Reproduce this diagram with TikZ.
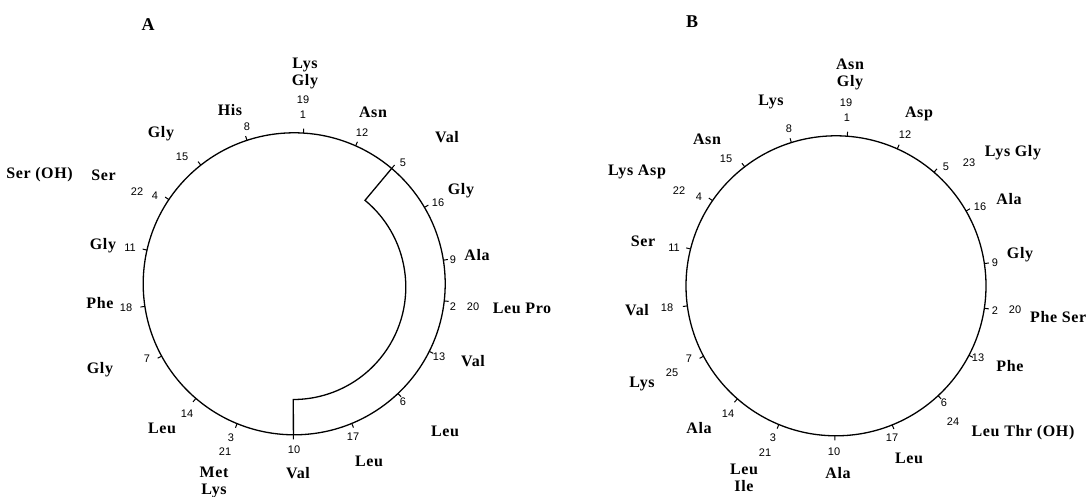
\documentclass[tikz,border=0pt]{standalone}
\usepackage{fontspec}
\setmainfont{Liberation Serif}
\newfontfamily\resfont{Liberation Serif}[LetterSpace=4]
\newfontfamily\numfont{Liberation Sans}
\begin{document}
\begin{tikzpicture}[x=1pt,y=-1pt,
  res/.style={font=\resfont\bfseries\fontsize{16}{17}\selectfont, inner sep=0pt, align=center},
  num/.style={font=\numfont\fontsize{11}{12}\selectfont, inner sep=0pt},
  panel/.style={font=\resfont\bfseries\fontsize{18}{20}\selectfont, inner sep=0pt},
  wheel/.style={line width=1.3pt},
  tickmark/.style={line width=1pt},
  face/.style={line width=1.3pt, line join=miter}]
\useasboundingbox (0,0) rectangle (1086,497);

% ---------- wheel A ----------
\coordinate (cA) at (294.2,283.8);
\coordinate (cI) at (293.3,287);
\draw[wheel] (cA) circle[radius=151pt];
\foreach \t in {-86.5,-66,-49.8,-30.4,-9,6.5,26.6,46.6,67.6,90.3,112.2,130.6,151.4,171.4,-167.1,-146.1,-128.2,-108.2}
  \draw[tickmark] ([shift={(\t:151)}]cA) -- ([shift={(\t:155.5)}]cA);
% hydrophobic face, from residue 5 round to residue 10
\coordinate (A-p5) at ([shift={(-49.8:151)}]cA);
\coordinate (A-p10) at ([shift={(90.3:151)}]cA);
\draw[face] (A-p5) -- ([shift={(-50.4:112.5)}]cI) arc[start angle=-50.4, end angle=90, radius=112.5] -- (A-p10);

\node[panel] (A-title) at (148,25) {A};
\node[res] (A-r19) at (305,73) {Lys\\Gly};
\node[res] (A-r8) at (230,110) {His};
\node[res] (A-r12) at (373,112) {Asn};
\node[res] (A-r5) at (447,137) {Val};
\node[res] (A-r15) at (161,134) {Gly};
\node[res] (A-r22) at (39.5,175) {Ser (OH)};
\node[res] (A-r4) at (103.5,175) {Ser};
\node[res] (A-r11) at (103,246) {Gly};
\node[res] (A-r18) at (100,303) {Phe};
\node[res] (A-r7) at (100,370) {Gly};
\node[res] (A-r14) at (162,428) {Leu};
\node[res] (A-r3) at (214,482) {Met\\Lys};
\node[res] (A-r10) at (298,473) {Val};
\node[res] (A-r17) at (369,461) {Leu};
\node[res] (A-r6) at (445,431) {Leu};
\node[res] (A-r13) at (473,361) {Val};
\node[res] (A-r2) at (522,308) {Leu Pro};
\node[res] (A-r9) at (477,255) {Ala};
\node[res] (A-r16) at (461,191) {Gly};

\foreach \n/\x/\y in {19/303/100, 1/303/115, 12/362/133, 5/403/163, 16/438/203,
    9/453/260, 2/453/307, 20/473/307, 13/439/357, 6/403/402, 17/353/437,
    10/294/450, 3/231/438, 21/225/452, 14/187/414, 7/147/359, 18/126/308,
    11/130/248, 22/137/192, 4/155/196, 15/182/157, 8/247/127}
  \node[num] (A-n\n) at (\x,\y) {\n};

% ---------- wheel B ----------
\coordinate (cB) at (836,285.8);
\draw[wheel] (cB) circle[radius=150pt];
\foreach \t in {-85.7,-65.9,-49.2,-29.9,-8.5,8.6,27.6,47.1,68.0,90.4,112.4,131.1,152.0,172.3,-165.8,-145.4,-127.5,-107.3}
  \draw[tickmark] ([shift={(\t:150)}]cB) -- ([shift={(\t:154.5)}]cB);

\node[panel] (B-title) at (692,22) {B};
\node[res] (B-r19) at (850,74) {Asn\\Gly};
\node[res] (B-r8) at (771,102) {Lys};
\node[res] (B-r12) at (919,114) {Asp};
\node[res] (B-r15) at (707,139) {Asn};
\node[res] (B-r22) at (637,172) {Lys Asp};
\node[res] (B-r5) at (1013,153) {Lys Gly};
\node[res] (B-r16) at (1009,199) {Ala};
\node[res] (B-r11) at (643,241) {Ser};
\node[res] (B-r9) at (1020,255) {Gly};
\node[res, anchor=west] (B-r2) at (1030,317) {Phe Ser};
\node[res] (B-r18) at (637,310) {Val};
\node[res] (B-r25) at (642,384) {Lys};
\node[res] (B-r13) at (1010,366) {Phe};
\node[res] (B-r14) at (699,428) {Ala};
\node[res] (B-r6) at (1023,433) {Leu Thr (OH)};
\node[res] (B-r3) at (744,478) {Leu\\Ile};
\node[res] (B-r10) at (838,473) {Ala};
\node[res] (B-r17) at (909,458) {Leu};

\foreach \n/\x/\y in {19/846/103, 1/847/118, 12/905/135, 5/946/167, 23/969/163,
    16/980/207, 9/995/263, 2/995/311, 20/1015/310, 13/978/358, 6/944/403,
    24/953/422, 17/892/438, 10/834/452, 3/773/438, 21/765/453, 14/728/414,
    25/672/373, 7/689/359, 18/667/308, 11/674/248, 22/679/191, 4/699/197,
    15/726/159, 8/789/129}
  \node[num] (B-n\n) at (\x,\y) {\n};
\end{tikzpicture}
\end{document}
